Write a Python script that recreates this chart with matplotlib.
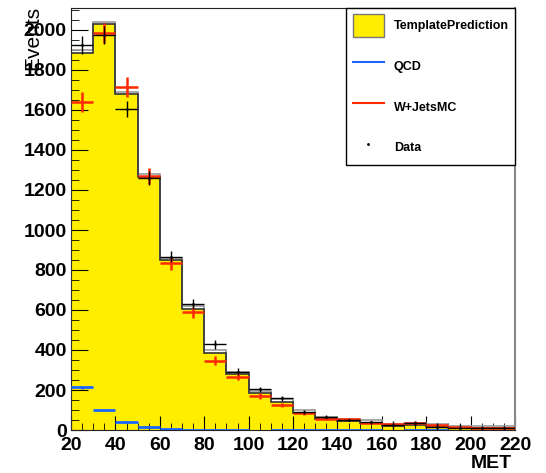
import numpy as np
import matplotlib
matplotlib.use("Agg")
import matplotlib.pyplot as plt
from matplotlib.ticker import MultipleLocator
from matplotlib.patches import Patch
from matplotlib.lines import Line2D
from matplotlib import font_manager as fm

# pick regular (non-narrow) Liberation Sans files
reg_file = None
bold_file = None
for f in fm.fontManager.ttflist:
    if f.name == 'Liberation Sans' and 'Narrow' not in f.fname:
        if f.weight in (700, 'bold') and f.style == 'normal':
            bold_file = f.fname
        elif f.weight in (400, 'normal', 'regular') and f.style == 'normal':
            reg_file = f.fname

def fp(size, bold=True):
    fn = bold_file if bold else reg_file
    if fn:
        return fm.FontProperties(fname=fn, size=size)
    return fm.FontProperties(family='DejaVu Sans', weight='bold' if bold else 'normal', size=size)

bin_edges = [20, 30, 40, 50, 60, 70, 80, 90, 100, 110, 120, 130, 140, 150, 160, 170, 180, 190, 200, 210, 220]
template = [1886, 2028, 1680, 1267, 850, 607, 387, 280, 183, 142, 87, 55, 45, 37, 20, 25, 17, 10, 8, 8]
data = [1925, 1975, 1605, 1260, 867, 630, 428, 292, 203, 158, 92, 67, 50, 38, 25, 33, 17, 10, 8, 8]
data_err = [44, 44, 40, 35, 29, 25, 21, 17, 14, 13, 10, 8, 7, 6, 20, 12, 20, 20, 10, 10]
wjets = [1640, 1985, 1717, 1272, 833, 588, 347, 267, 172, 125, 83, 55, 55, 37, 30, 37, 25, 13, 10, 10]
wjets_err = [50, 50, 50, 40, 33, 27, 21, 18, 15, 12, 9, 7, 7, 6, 5, 6, 5, 3, 3, 3]
qcd = [213, 100, 40, 13, 5, 1, 1, 1, np.nan, 1, 1, 1, 1, 1, np.nan, 1, 1, np.nan, np.nan, np.nan]
qcd_err = [8, 6, 4, 2, 1, 0.5, 0.5, 0.5, np.nan, 0.5, 0.5, 0.5, 0.5, 0.5, np.nan, 0.5, 0.5, np.nan, np.nan, np.nan]

edges = np.array(bin_edges, dtype=float)
centers = 0.5 * (edges[:-1] + edges[1:])
halfw = 0.5 * np.diff(edges)

fig = plt.figure(figsize=(5.46, 4.73), dpi=100)
ax = fig.add_axes([71/546, 43/473, 444/546, 422/473])

ax.stairs(template, edges, fill=True, color='#ffee00', zorder=1)
ax.stairs(np.array(template) + 12, edges, color='#999999', linewidth=1.2, zorder=2)
ax.stairs(template, edges, color='#333333', linewidth=1.2, zorder=3)

ax.errorbar(centers, qcd, xerr=halfw, yerr=qcd_err, fmt='none', ecolor='#1a66ff',
            elinewidth=2, capsize=0, zorder=4)
ax.errorbar(centers, wjets, xerr=halfw, yerr=wjets_err, fmt='none', ecolor='#ff2a00',
            elinewidth=1.8, capsize=0, zorder=5)
ax.errorbar(centers, data, xerr=halfw, yerr=data_err, fmt='.', color='black', markersize=2,
            ecolor='black', elinewidth=1, capsize=0, zorder=6)

ax.set_xlim(20, 220)
ax.set_ylim(0, 2110)
ax.xaxis.set_major_locator(MultipleLocator(20))
ax.xaxis.set_minor_locator(MultipleLocator(5))
ax.yaxis.set_major_locator(MultipleLocator(200))
ax.yaxis.set_minor_locator(MultipleLocator(50))
ax.tick_params(axis='both', which='both', direction='in', top=False, right=False)
ax.tick_params(axis='y', which='major', length=12, pad=3)
ax.tick_params(axis='y', which='minor', length=6)
ax.tick_params(axis='x', which='major', length=10, pad=5)
ax.tick_params(axis='x', which='minor', length=5)
for lbl in ax.get_xticklabels() + ax.get_yticklabels():
    lbl.set_fontproperties(fp(14))
for s in ['left', 'bottom', 'top']:
    ax.spines[s].set_color('#222222')
ax.spines['right'].set_color('#888888')
ax.spines['right'].set_linewidth(1.5)

fig.text(33/546, 1 - 6/473, 'Events', rotation=90, ha='center', va='top', fontproperties=fp(15, bold=False))
fig.text(512/546, 1 - 463/473, 'MET', ha='right', va='center', fontproperties=fp(14))

handles = [Patch(facecolor='#ffee00', edgecolor='#777777', linewidth=1),
           Line2D([], [], color='#1a66ff', linewidth=1.5),
           Line2D([], [], color='#ff2a00', linewidth=1.5),
           Line2D([], [], color='black', marker='.', markersize=2, linestyle='none')]
labels = ['TemplatePrediction', 'QCD', 'W+JetsMC', 'Data']
leg = ax.legend(handles, labels, loc='upper right', bbox_to_anchor=(1.0, 1.0),
                prop=fp(9), frameon=True, fancybox=False,
                edgecolor='black', framealpha=1, borderpad=0.5, labelspacing=1.45,
                handlelength=2.5, handleheight=2.4, handletextpad=0.8, borderaxespad=0)
leg.get_frame().set_linewidth(1)

fig.savefig('out.png', dpi=100)
